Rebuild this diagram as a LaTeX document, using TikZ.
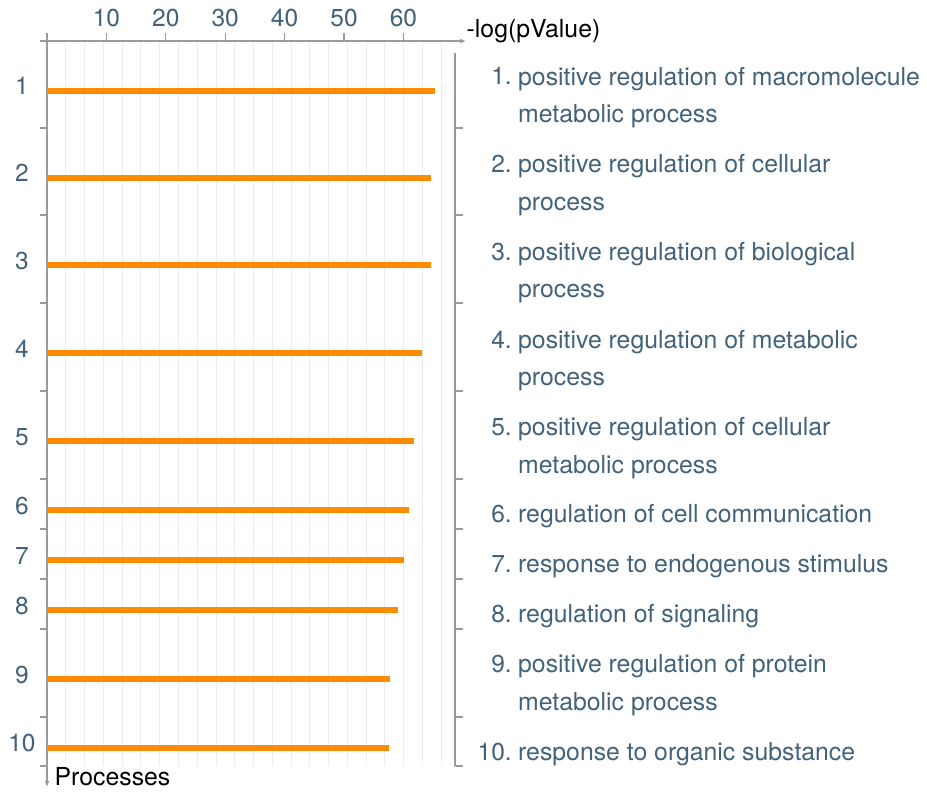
\documentclass[tikz,border=0pt]{standalone}
\usepackage{fontspec}
\setmainfont{TeX Gyre Heros}
\usetikzlibrary{arrows.meta}
\definecolor{barorange}{HTML}{FF8C00}
\definecolor{axisgray}{HTML}{9A9A9A}
\definecolor{gridgray}{HTML}{ECECEC}
\definecolor{labelblue}{HTML}{42627A}

\begin{document}
\begin{tikzpicture}[x=1bp,y=-1bp]
\tikzstyle{axis}=[draw=axisgray,line width=1.3bp]
\tikzstyle{gridline}=[draw=gridgray,line width=0.8bp]
\tikzstyle{bar}=[draw=barorange,line width=6bp]
\tikzstyle{num}=[text=labelblue,font=\fontsize{24.6}{37.5}\selectfont,inner sep=0pt]
\tikzstyle{term}=[num,font=\fontsize{24.9}{37.5}\selectfont,anchor=base west,align=left]
\tikzstyle{caption}=[font=\fontsize{24.9}{28}\selectfont,inner sep=0pt,anchor=base west]
\useasboundingbox (0,0) rectangle (927,793);
% grid
\foreach \g in {1,...,21}
  \draw[gridline] ({47+18.77*\g},41) -- ({47+18.77*\g},766);
% axes
\coordinate (ytop) at (47,33);
\coordinate (yend) at (47,787);
\coordinate (xstart) at (40,41);
\coordinate (xend) at (466,41);
\coordinate (rtop) at (455,53);
\coordinate (rbot) at (455,766);
\draw[axis,-{Latex[length=6bp,width=5bp]}] (ytop) -- (yend);
\draw[axis,-{Latex[length=6bp,width=5bp]}] (xstart) -- (xend);
\draw[axis] (rtop) -- (rbot);
\foreach \t in {128,215,303,391,479,529,579,629,717,766}{
  \draw[axis] (40,\t) -- (47,\t);
  \draw[axis] (455,\t) -- (463,\t);
}
\foreach \v in {10,20,30,40,50,60}
  \draw[axis] ({47+5.94*\v},33) -- ({47+5.94*\v},41);
\node [num,anchor=base] (tick10) at (106.4,27) {10};
\node [num,anchor=base] (tick20) at (165.8,27) {20};
\node [num,anchor=base] (tick30) at (225.2,27) {30};
\node [num,anchor=base] (tick40) at (284.6,27) {40};
\node [num,anchor=base] (tick50) at (344.0,27) {50};
\node [num,anchor=base] (tick60) at (403.4,27) {60};
\node [caption] (xlabel) at (466.5,37.5) {-log(pValue)};
\node [caption] (ylabel) at (54.5,785) {Processes};
% bars
\draw[bar] (47,90.5) -- (435,90.5);
\draw[bar] (47,177.5) -- (431,177.5);
\draw[bar] (47,265) -- (431,265);
\draw[bar] (47,353) -- (422,353);
\draw[bar] (47,441) -- (414,441);
\draw[bar] (47,510) -- (409,510);
\draw[bar] (47,560) -- (403.5,560);
\draw[bar] (47,610) -- (397.5,610);
\draw[bar] (47,679) -- (390,679);
\draw[bar] (47,747.5) -- (388.5,747.5);
% ranks
\node [num,anchor=base] (rank1) at (22,94.5) {1};
\node [num,anchor=base] (rank2) at (22,181.5) {2};
\node [num,anchor=base] (rank3) at (22,269) {3};
\node [num,anchor=base] (rank4) at (22,357) {4};
\node [num,anchor=base] (rank5) at (22,445) {5};
\node [num,anchor=base] (rank6) at (22,514) {6};
\node [num,anchor=base] (rank7) at (22,564) {7};
\node [num,anchor=base] (rank8) at (22,614) {8};
\node [num,anchor=base] (rank9) at (22,683) {9};
\node [num,anchor=base] (rank10) at (22,751.5) {10};
% terms (two-line nodes sit on their last baseline)
\node [num,anchor=base east] (item1) at (512,85) {1.};
\node [term] (term1) at (518,122.5) {positive regulation of macromolecule\\metabolic process};
\node [num,anchor=base east] (item2) at (512,172.7) {2.};
\node [term] (term2) at (518,210.2) {positive regulation of cellular\\process};
\node [num,anchor=base east] (item3) at (512,260.4) {3.};
\node [term] (term3) at (518,297.9) {positive regulation of biological\\process};
\node [num,anchor=base east] (item4) at (512,348) {4.};
\node [term] (term4) at (518,385.5) {positive regulation of metabolic\\process};
\node [num,anchor=base east] (item5) at (512,435.8) {5.};
\node [term] (term5) at (518,473.3) {positive regulation of cellular\\metabolic process};
\node [num,anchor=base east] (item6) at (512,522.5) {6.};
\node [term] (term6) at (518,522.5) {regulation of cell communication};
\node [num,anchor=base east] (item7) at (512,572.5) {7.};
\node [term] (term7) at (518,572.5) {response to endogenous stimulus};
\node [num,anchor=base east] (item8) at (512,622.5) {8.};
\node [term] (term8) at (518,622.5) {regulation of signaling};
\node [num,anchor=base east] (item9) at (512,672.8) {9.};
\node [term] (term9) at (518,710.3) {positive regulation of protein\\metabolic process};
\node [num,anchor=base east] (item10) at (512,760) {10.};
\node [term] (term10) at (518,760) {response to organic substance};
\end{tikzpicture}
\end{document}
